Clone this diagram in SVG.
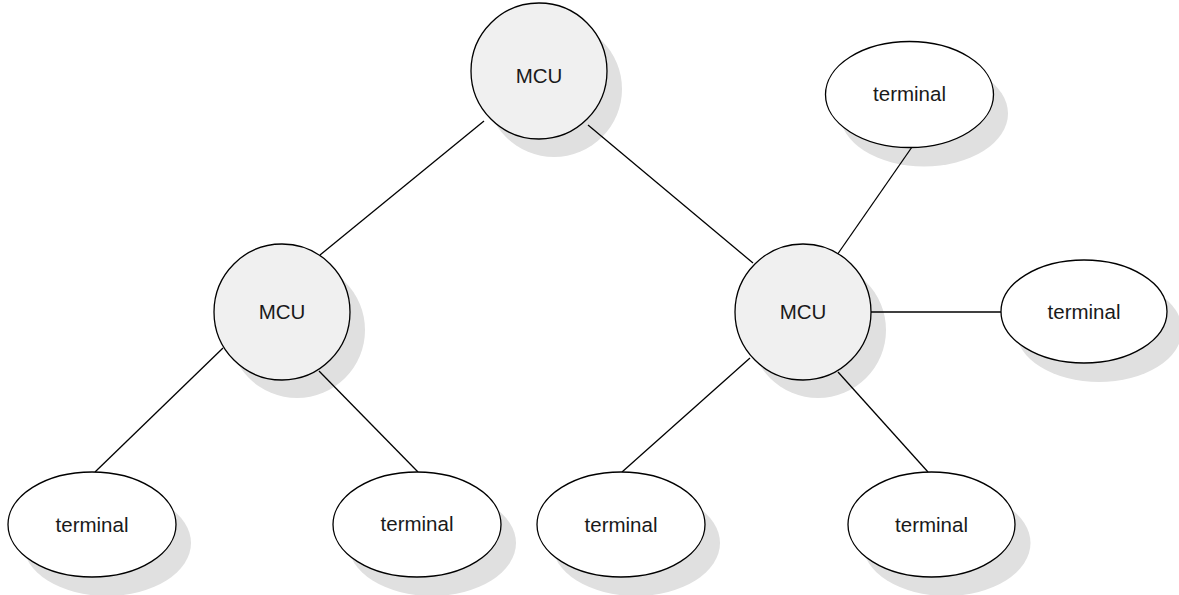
<svg xmlns="http://www.w3.org/2000/svg" width="1179" height="595" viewBox="0 0 1179 595">
  <style>
    .shadow { fill: #e0e0e0; stroke: none; }
    .mcu { fill: #f0f0f0; stroke: #000; stroke-width: 1.3; }
    .term { fill: #fff; stroke: #000; stroke-width: 1.3; }
    .link { stroke: #000; stroke-width: 1.3; fill: none; }
    .label { font-family: "Liberation Sans", Arial, sans-serif; font-size: 20.5px; fill: #1a1a1a; text-anchor: middle; dominant-baseline: central; }
  </style>
  <rect width="1179" height="595" fill="#fff"/>

  <!-- drop shadows, offset down-right -->
  <g id="shadows">
    <circle class="shadow" cx="554" cy="89" r="68"/>
    <circle class="shadow" cx="297" cy="330" r="68"/>
    <circle class="shadow" cx="818" cy="330" r="68"/>
    <ellipse class="shadow" cx="924" cy="113.5" rx="84" ry="53"/>
    <ellipse class="shadow" cx="1099" cy="330" rx="83" ry="52"/>
    <ellipse class="shadow" cx="107" cy="543" rx="84" ry="53"/>
    <ellipse class="shadow" cx="432" cy="543" rx="84" ry="53"/>
    <ellipse class="shadow" cx="636" cy="543" rx="84" ry="53"/>
    <ellipse class="shadow" cx="946.5" cy="543" rx="84" ry="53"/>
  </g>

  <!-- connectors -->
  <g id="connectors">
    <line class="link" x1="484" y1="121" x2="320" y2="255"/>
    <line class="link" x1="588" y1="125" x2="753" y2="263"/>
    <line class="link" x1="223" y1="348" x2="95" y2="472"/>
    <line class="link" x1="319" y1="371" x2="418" y2="472"/>
    <line class="link" x1="837" y1="255" x2="912" y2="147"/>
    <line class="link" x1="871" y1="312" x2="1001" y2="312"/>
    <line class="link" x1="750" y1="358" x2="622" y2="472"/>
    <line class="link" x1="838" y1="372" x2="928" y2="472"/>
  </g>

  <g id="mcu-top">
    <circle class="mcu" cx="539" cy="71" r="68"/>
    <text class="label" x="539" y="75">MCU</text>
  </g>
  <g id="mcu-left">
    <circle class="mcu" cx="282" cy="312" r="68"/>
    <text class="label" x="282" y="311">MCU</text>
  </g>
  <g id="mcu-right">
    <circle class="mcu" cx="803" cy="312" r="68"/>
    <text class="label" x="803" y="311">MCU</text>
  </g>

  <g id="terminal-top-right">
    <ellipse class="term" cx="909.5" cy="94.5" rx="84" ry="53"/>
    <text class="label" x="909.5" y="93.5">terminal</text>
  </g>
  <g id="terminal-right">
    <ellipse class="term" cx="1084" cy="311.5" rx="83" ry="51.5"/>
    <text class="label" x="1084" y="311">terminal</text>
  </g>
  <g id="terminal-1">
    <ellipse class="term" cx="92" cy="524.5" rx="84" ry="52.5"/>
    <text class="label" x="92" y="524">terminal</text>
  </g>
  <g id="terminal-2">
    <ellipse class="term" cx="417" cy="524.5" rx="84" ry="52.5"/>
    <text class="label" x="417" y="523">terminal</text>
  </g>
  <g id="terminal-3">
    <ellipse class="term" cx="621" cy="524.5" rx="84" ry="52.5"/>
    <text class="label" x="621" y="524">terminal</text>
  </g>
  <g id="terminal-4">
    <ellipse class="term" cx="931.5" cy="524.5" rx="83.5" ry="52.5"/>
    <text class="label" x="931.5" y="524">terminal</text>
  </g>
</svg>
